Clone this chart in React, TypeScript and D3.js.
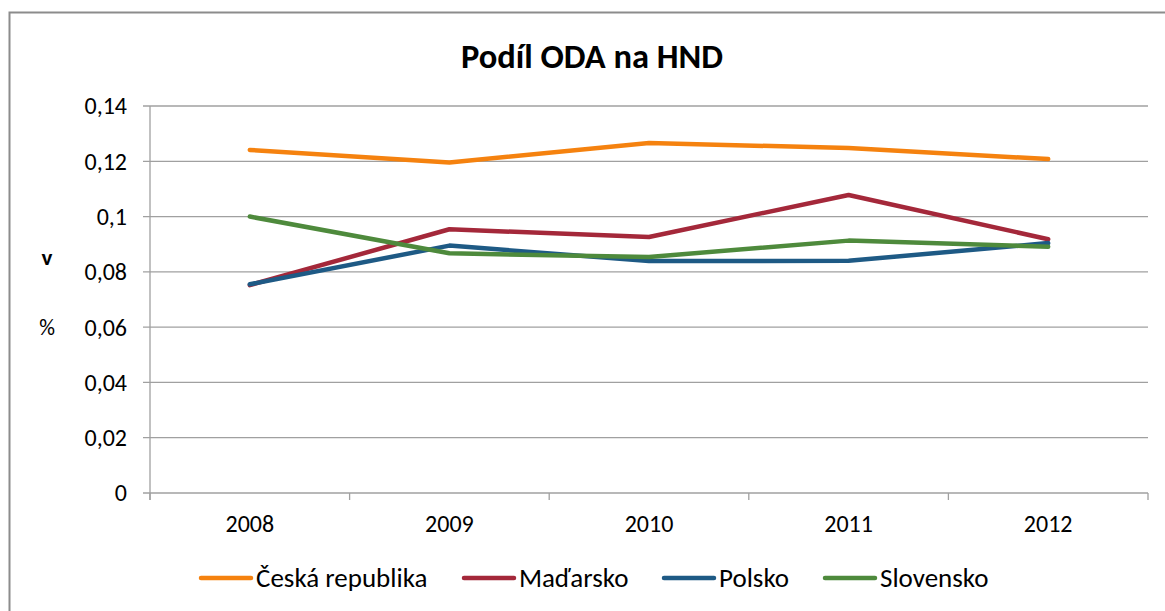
import * as d3 from 'd3';
import React from 'react';

const years = ['2008', '2009', '2010', '2011', '2012'];
const ceskaRepublika = [0.1241, 0.1196, 0.1266, 0.1248, 0.1208];
const madarsko = [0.0752, 0.0954, 0.0926, 0.1078, 0.0918];
const polsko = [0.0755, 0.0895, 0.0839, 0.084, 0.0904];
const slovensko = [0.1, 0.0867, 0.0854, 0.0913, 0.0891];
const yTicks = [0, 0.02, 0.04, 0.06, 0.08, 0.1, 0.12, 0.14];

const series = [
  { name: 'Česká republika', values: ceskaRepublika, color: '#F5820F' },
  { name: 'Maďarsko', values: madarsko, color: '#A4283A' },
  { name: 'Polsko', values: polsko, color: '#1E5A85' },
  { name: 'Slovensko', values: slovensko, color: '#4E8A3C' },
];

// legend x-positions (line start)
const legendX = [201, 464, 664, 825];

const W = 1165;
const H = 611;
const margin = { top: 106, right: 17, bottom: 118, left: 150 };
const font = 'Carlito, Calibri, "Open Sans", sans-serif';

const App = () => {
  const x = d3
    .scaleBand()
    .domain(years)
    .range([margin.left, W - margin.right]);
  const y = d3
    .scaleLinear()
    .domain([0, 0.14])
    .range([H - margin.bottom, margin.top]);

  const line = d3
    .line<number>()
    .x((d, i) => x(years[i])! + x.bandwidth() / 2)
    .y((d) => y(d));

  const fmt = (v: number) => (v === 0 ? '0' : String(+v.toFixed(2)).replace('.', ','));
  const bounds = [...years.map((yr) => x(yr)!), W - margin.right];

  return (
    <svg width={W} height={H} style={{ position: 'absolute', left: 0, top: 0, fontFamily: font }}>
      <rect x={0} y={0} width={W} height={H} fill="#fff" />
      <path d={`M9.5,${H} V12.5 H${W}`} fill="none" stroke="#8c8c8c" strokeWidth={2} />
      <text x={592} y={68} textAnchor="middle" fontSize={34.5} fontWeight="bold" fill="#000">
        Podíl ODA na HND
      </text>

      {yTicks.map((t) => (
        <g key={t}>
          <line x1={margin.left - 7} x2={W - margin.right} y1={y(t)} y2={y(t)} stroke="#a0a0a0" strokeWidth={1.3} />
          <text x={127} y={y(t)} dy="0.35em" textAnchor="end" fontSize={24} fill="#000">
            {fmt(t)}
          </text>
        </g>
      ))}
      <line x1={margin.left} x2={margin.left} y1={y(0.14)} y2={y(0) + 7} stroke="#a0a0a0" strokeWidth={1.3} />
      {bounds.map((b, i) => (
        <line key={i} x1={b} x2={b} y1={y(0)} y2={y(0) + 7} stroke="#a0a0a0" strokeWidth={1.3} />
      ))}
      {years.map((yr) => (
        <text key={yr} x={x(yr)! + x.bandwidth() / 2} y={532} textAnchor="middle" fontSize={24} fill="#000">
          {yr}
        </text>
      ))}

      <text x={47} y={265} textAnchor="middle" fontSize={23} fontWeight="bold" fill="#000">v</text>
      <text x={47} y={335} textAnchor="middle" fontSize={22} fill="#000">%</text>

      {series.map((s) => (
        <path key={s.name} d={line(s.values)!} fill="none" stroke={s.color} strokeWidth={4.5} strokeLinejoin="round" strokeLinecap="round" />
      ))}

      {series.map((s, i) => (
        <g key={s.name} transform={`translate(${legendX[i]},578)`}>
          <line x1={0} x2={50} y1={0} y2={0} stroke={s.color} strokeWidth={4.5} strokeLinecap="round" />
          <text x={55} y={0} dy="0.35em" fontSize={27} fill="#000">
            {s.name}
          </text>
        </g>
      ))}
    </svg>
  );
};

export default App;
